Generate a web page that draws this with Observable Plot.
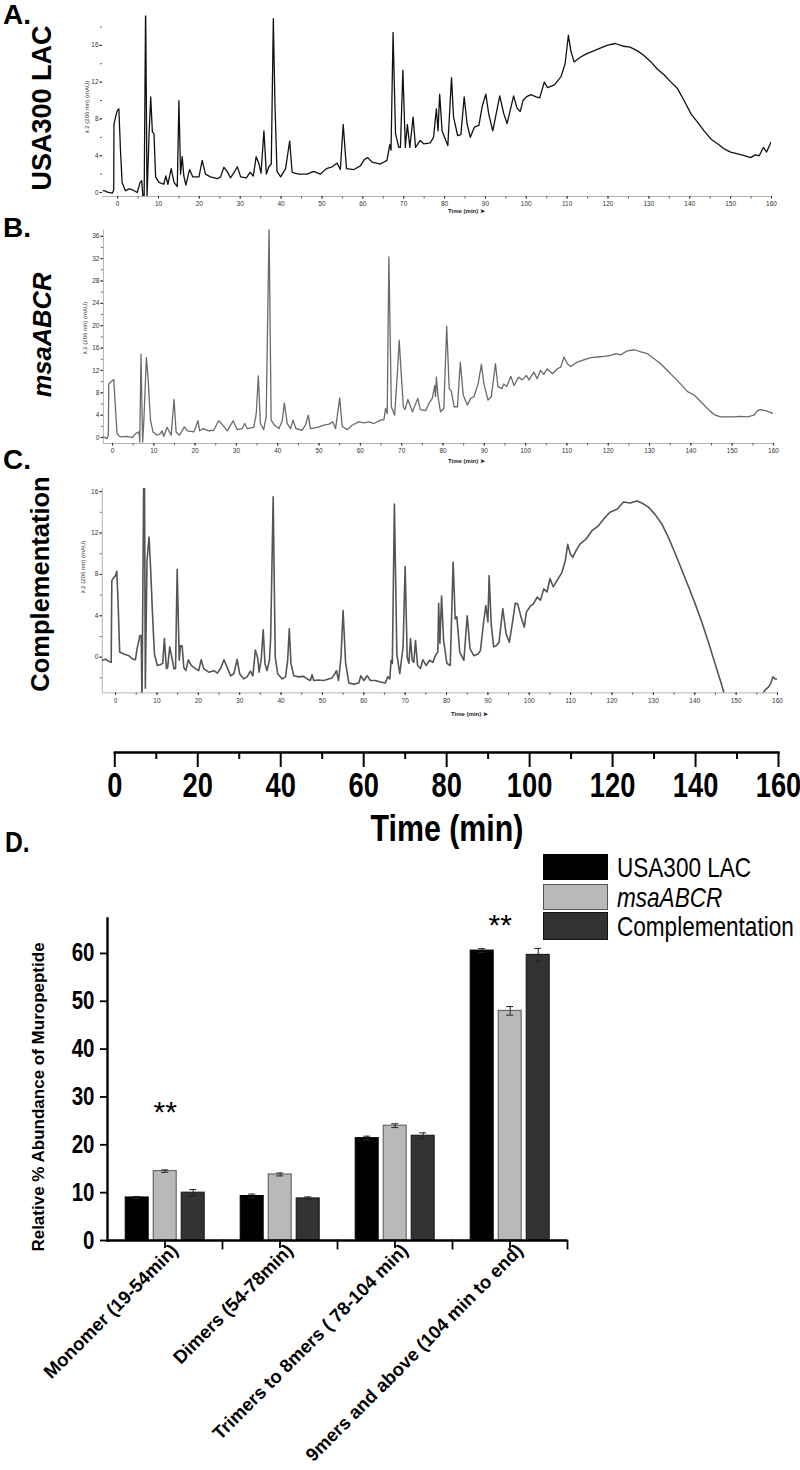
<!DOCTYPE html>
<html><head><meta charset="utf-8">
<script src="https://cdn.jsdelivr.net/npm/d3@7"></script>
<script src="https://cdn.jsdelivr.net/npm/@observablehq/plot@0.6"></script>
<style>
html,body{margin:0;padding:0;background:#fff;}
#fig{position:relative;width:800px;height:1470px;overflow:hidden;font-family:"Liberation Sans",Arial,sans-serif;color:#000;background:#fff;}
#fig svg{position:absolute;left:0;background:transparent;}
.abs{position:absolute;white-space:nowrap;line-height:1;}
.panel{font-weight:bold;font-size:28px;}
.rot{transform:translate(-50%,-50%) rotate(-90deg);}
.tlab{font-size:6px;font-weight:bold;color:#222;}
.ylab{font-size:6px;color:#333;}
.leg{font-size:27.5px;transform:scaleX(0.82);transform-origin:0 50%;}
.box{position:absolute;box-sizing:border-box;width:65px;}
</style></head><body><div id="fig"></div>
<script>
// ---------------- data ----------------
const timeTicks = [0,10,20,30,40,50,60,70,80,90,100,110,120,130,140,150,160];
const timeMinorTicks = [0,5,10,15,20,25,30,35,40,45,50,55,60,65,70,75,80,85,90,95,100,105,110,115,120,125,130,135,140,145,150,155,160];
const bigTimeTicks = [0,20,40,60,80,100,120,140,160];
const bigTimeMinorTicks = [10,30,50,70,90,110,130,150];
const yTicksA = [0,4,8,12,16];
const yMinorA = [0,2,4,6,8,10,12,14,16,18];
const yTicksB = [0,4,8,12,16,20,24,28,32,36];
const yMinorB = [0,2,4,6,8,10,12,14,16,18,20,22,24,26,28,30,32,34,36];
const yTicksC = [0,4,8,12,16];
const yMinorC = [-2,0,2,4,6,8,10,12,14,16];

// chromatogram A: USA300 LAC  [time (min), λ2 206 nm (mAU)]
const traceA = [[-3.5,0.2],[-2.9,0.15],[-2.5,0.05],[-1.3,-0.07],[-0.95,0.3],[-0.9,7.4],[-0.5,8.2],[-0.1,8.9],[0.3,9.1],[0.7,4.6],[1.1,1.1],[1.9,0.2],[2.8,0.4],[3.6,0.3],[4.8,0.0],[5.5,1.1],[5.9,1.3],[6.2,-0.5],[6.5,-0.3],[6.85,20.5],[7.2,-0.5],[7.7,6.4],[8.1,10.4],[8.5,6.6],[8.9,6.4],[9.3,1.7],[10.1,1.1],[11.3,0.9],[11.8,1.8],[12.3,0.9],[13.1,2.6],[13.8,1.1],[14.6,0.65],[15.0,10.0],[15.4,2.0],[15.8,3.9],[16.2,1.8],[16.7,0.8],[17.6,2.5],[18.4,1.7],[19.9,1.7],[20.7,3.5],[21.5,2.0],[22.7,1.7],[24.4,1.5],[25.2,1.7],[26.0,2.75],[26.8,2.3],[27.6,1.6],[28.4,2.1],[29.3,2.8],[30.1,1.7],[31.5,1.6],[32.4,2.2],[33.2,1.8],[33.9,3.9],[34.6,3.1],[35.1,2.1],[35.8,6.7],[36.4,2.0],[37.0,2.8],[37.6,3.1],[38.1,18.9],[38.5,9.6],[39.0,2.3],[39.9,1.7],[41.1,2.6],[42.1,5.6],[42.7,2.2],[44.3,2.0],[46.4,2.0],[48.0,2.3],[49.6,2.0],[51.1,2.6],[52.5,2.8],[53.7,3.2],[54.5,2.5],[55.2,7.4],[56.0,2.6],[57.8,2.5],[59.4,2.9],[60.4,3.6],[61.2,3.8],[62.3,3.3],[64.3,3.1],[65.9,3.5],[66.6,5.2],[66.9,4.6],[67.4,17.4],[68.0,6.4],[68.8,4.9],[69.2,4.9],[69.8,13.3],[70.4,4.9],[70.9,7.4],[71.5,4.9],[72.3,8.2],[72.9,4.9],[74.0,5.65],[74.9,5.3],[76.5,5.4],[77.3,6.0],[78.0,9.1],[78.4,6.7],[78.8,10.7],[79.4,6.7],[80.8,5.1],[81.7,12.5],[82.2,8.2],[83.2,6.2],[84.0,6.3],[84.8,10.4],[85.5,7.5],[86.3,6.0],[87.3,7.1],[88.4,7.3],[89.2,9.35],[90.1,10.7],[90.8,8.55],[91.8,6.7],[93.5,10.5],[94.5,8.55],[95.3,7.5],[96.9,10.5],[97.7,9.2],[98.5,8.8],[99.2,10.0],[100.0,10.4],[101.1,10.65],[102.4,10.4],[103.3,10.3],[104.4,12.0],[105.2,11.4],[106.9,11.7],[108.5,12.6],[109.5,14.0],[110.3,17.1],[110.9,15.4],[111.7,14.2],[113.2,14.7],[114.8,15.1],[116.5,15.4],[118.1,15.7],[119.7,16.0],[121.8,16.2],[123.8,15.9],[125.4,15.8],[127.2,15.4],[128.8,14.9],[130.5,14.2],[132.1,13.4],[133.7,12.8],[135.4,12.0],[137.0,11.3],[138.6,10.0],[140.3,8.55],[141.9,7.65],[143.5,6.7],[145.2,5.8],[146.8,5.3],[148.4,4.75],[150.0,4.4],[151.7,4.2],[153.3,4.0],[154.9,3.8],[156.0,4.1],[157.0,4.0],[158.0,4.9],[158.8,4.4],[159.9,5.5]];

// chromatogram B: msaABCR
const traceB = [[-2.5,0.1],[-2.1,0.1],[-1.3,-0.2],[-1.0,0.5],[-0.9,9.6],[-0.5,9.9],[0.3,10.4],[0.7,5.5],[1.1,0.7],[1.9,0.1],[3.6,0.2],[4.8,0.0],[5.6,0.7],[6.4,1.0],[6.6,-0.8],[6.9,14.9],[7.3,-0.8],[7.6,3.1],[8.2,14.3],[8.6,10.8],[9.2,3.1],[9.8,1.0],[10.8,0.4],[11.6,0.7],[12.0,1.2],[12.4,0.2],[13.2,1.8],[13.6,1.3],[14.2,0.4],[14.9,6.8],[15.4,1.0],[16.2,0.4],[17.4,1.9],[18.1,1.2],[19.7,1.0],[20.7,3.0],[21.1,1.2],[22.0,1.6],[23.3,1.2],[24.5,1.3],[25.7,3.0],[26.5,2.4],[27.8,1.2],[29.2,3.0],[30.2,1.4],[31.4,1.6],[32.0,2.5],[32.6,1.6],[34.2,1.8],[34.8,4.3],[35.3,11.0],[35.8,2.5],[36.6,1.4],[37.2,3.7],[37.9,37.5],[38.4,3.1],[39.2,2.2],[40.3,1.6],[41.1,3.0],[41.6,6.2],[42.3,2.5],[43.1,1.6],[43.7,3.1],[44.4,1.6],[45.9,1.3],[46.7,2.2],[47.4,4.0],[47.9,1.6],[49.6,1.8],[51.2,2.2],[52.4,2.4],[53.3,2.8],[54.0,1.6],[55.0,7.1],[55.6,2.0],[56.8,1.4],[58.0,2.2],[59.6,2.8],[60.9,2.6],[62.1,2.8],[63.3,2.5],[64.9,3.1],[65.7,3.2],[66.1,5.2],[66.5,4.3],[66.9,32.3],[67.5,5.5],[68.3,4.0],[69.0,12.0],[69.4,17.4],[69.8,12.5],[70.4,5.5],[70.8,5.0],[71.5,6.8],[72.6,4.6],[73.9,7.0],[74.5,5.0],[75.8,4.8],[76.6,6.1],[77.4,7.0],[78.0,9.3],[78.2,7.3],[78.4,10.8],[78.8,7.3],[79.4,4.6],[80.2,5.2],[80.9,19.9],[81.5,8.75],[82.0,8.3],[82.7,5.5],[83.5,5.5],[84.2,13.5],[84.9,7.6],[85.9,5.8],[86.7,7.0],[87.5,7.3],[88.5,9.6],[89.3,13.1],[89.9,9.6],[90.9,6.7],[91.7,7.3],[92.7,13.2],[93.3,9.1],[94.3,8.75],[94.7,9.6],[95.4,9.1],[96.4,10.95],[97.2,9.3],[98.3,10.8],[99.2,10.3],[100.2,11.1],[100.8,10.3],[102.0,11.7],[102.8,10.5],[103.6,12.0],[104.4,11.3],[105.2,12.3],[106.5,11.4],[107.7,12.3],[108.5,12.6],[109.3,14.4],[110.1,13.2],[110.9,12.7],[112.5,13.5],[114.1,13.9],[115.7,14.3],[117.4,14.4],[119.0,14.5],[120.6,14.7],[121.8,15.0],[123.0,14.8],[124.6,15.5],[126.3,15.7],[127.9,15.3],[129.5,15.0],[131.1,14.1],[132.7,13.2],[134.3,12.0],[135.9,10.8],[137.5,9.6],[139.2,8.2],[140.8,7.6],[142.4,6.4],[144.0,5.2],[145.6,4.1],[147.2,3.7],[148.8,3.7],[150.4,3.7],[152.0,3.8],[153.7,3.7],[155.3,4.0],[156.1,4.8],[156.9,5.0],[158.1,4.8],[158.9,4.6],[160.0,4.3]];

// chromatogram C: Complementation
const traceC = [[-3.2,-0.3],[-2.4,-0.2],[-1.6,-0.4],[-1.05,-0.5],[-0.9,7.4],[-0.4,7.7],[0.0,7.9],[0.3,8.3],[0.6,5.5],[1.0,0.5],[2.0,0.3],[3.2,0.15],[4.0,-0.15],[4.8,-0.25],[5.2,0.8],[5.9,2.1],[6.2,2.1],[6.4,-4.5],[6.8,17],[7.0,17],[7.2,-3.0],[7.6,9.3],[8.1,11.6],[8.5,8.4],[8.9,4.5],[9.4,0.3],[10.1,-0.8],[10.9,-0.7],[11.4,-0.6],[11.8,1.8],[12.3,-1.1],[12.6,-1.0],[13.1,1.0],[13.6,0.0],[14.1,-1.1],[14.5,-1.1],[14.9,8.5],[15.4,-0.3],[15.7,1.1],[16.1,1.1],[16.5,-1.0],[17.0,-1.3],[17.6,-0.25],[18.3,-0.8],[19.3,-1.1],[20.1,-1.3],[20.7,-0.25],[21.3,-1.1],[22.5,-1.45],[23.8,-1.3],[24.6,-1.55],[25.5,-1.0],[26.2,-0.25],[27.0,-1.0],[27.8,-1.8],[28.6,-1.6],[29.4,-0.2],[30.0,-1.6],[31.0,-2.1],[31.8,-1.9],[32.6,-1.35],[33.2,-1.8],[33.8,0.7],[34.4,-0.15],[34.7,-1.45],[35.2,-0.25],[35.7,2.65],[36.1,-0.6],[36.6,-1.3],[37.2,-0.3],[37.5,1.9],[38.1,15.5],[38.6,0.0],[39.2,-1.6],[40.3,-2.1],[41.1,-1.9],[41.6,-0.3],[42.0,2.75],[42.4,-0.6],[43.1,-1.8],[44.3,-1.9],[45.5,-1.85],[46.3,-2.1],[47.1,-2.25],[47.5,-1.7],[47.9,-2.25],[49.1,-2.2],[50.3,-2.25],[51.5,-2.1],[52.3,-2.0],[53.0,-1.6],[53.4,-1.3],[53.9,-2.25],[54.5,0.0],[55.0,4.5],[55.6,-0.5],[56.4,-2.5],[57.6,-2.6],[58.8,-2.5],[59.3,-1.8],[60.0,-2.25],[60.8,-1.8],[61.6,-2.25],[62.8,-2.25],[64.0,-2.4],[65.2,-2.5],[65.8,-1.9],[66.3,-2.1],[66.6,-0.3],[66.9,-0.6],[67.4,14.8],[68.0,0.3],[68.7,-1.6],[69.5,1.0],[70.0,8.75],[70.5,0.0],[70.9,-0.6],[71.3,1.8],[71.7,-0.3],[72.1,-0.5],[72.5,1.6],[73.0,-0.8],[73.7,-1.1],[74.3,-0.25],[75.1,-0.8],[75.9,-0.3],[76.7,-0.5],[77.3,0.15],[77.9,0.5],[78.1,5.2],[78.4,1.35],[78.8,5.9],[79.3,1.6],[80.1,-0.6],[80.9,-0.8],[81.6,9.2],[82.1,3.7],[82.5,3.9],[83.2,0.5],[84.2,-0.3],[85.0,4.0],[85.7,0.8],[86.6,0.15],[87.6,0.3],[88.2,0.65],[89.0,3.5],[89.5,5.0],[90.0,3.4],[90.3,7.9],[90.8,3.2],[91.4,1.0],[92.0,1.1],[92.7,1.45],[93.6,4.7],[94.4,2.25],[95.2,1.45],[96.0,3.5],[96.6,5.2],[97.2,5.15],[98.0,3.9],[98.8,2.9],[99.3,4.35],[100.2,4.9],[101.0,5.15],[101.9,5.8],[102.7,5.5],[103.5,6.6],[104.3,6.3],[105.0,7.6],[105.8,6.8],[106.7,7.4],[107.9,8.2],[108.7,9.3],[109.3,10.9],[109.9,10.0],[110.5,9.65],[111.3,10.3],[112.3,10.95],[113.7,11.4],[115.1,12.2],[116.7,12.7],[118.1,13.4],[119.5,14.0],[121.2,14.3],[122.8,15.0],[124.4,14.9],[126.0,15.1],[127.2,14.9],[128.8,14.5],[130.4,13.8],[132.0,12.9],[133.6,11.6],[135.3,10.0],[136.9,8.4],[138.5,6.8],[140.1,5.15],[141.7,3.4],[143.3,1.45],[144.9,-0.6],[146.3,-2.4],[147.3,-3.8],[148.5,-5.5],[155.0,-5.5],[156.2,-3.7],[157.0,-3.15],[157.8,-2.9],[158.4,-2.5],[158.9,-1.9],[159.4,-2.1],[160.0,-2.1]];

// panel D: relative % abundance of muropeptide
const categories = ["Monomer (19-54min)", "Dimers (54-78min)", "Trimers to 8mers ( 78-104 min)", "9mers and above (104 min to end)"];
const strains = ["USA300 LAC", "msaABCR", "Complementation"];
const usa300Values = [9.0, 9.3, 21.4, 60.6];
const usa300Errors = [0.2, 0.4, 0.4, 0.4];
const msaValues = [14.5, 13.8, 24.0, 48.0];
const msaErrors = [0.25, 0.3, 0.4, 0.9];
const compValues = [10.0, 8.8, 21.9, 59.7];
const compErrors = [0.65, 0.3, 0.6, 1.35];
const strainFills = ["#000000", "#b9b9b9", "#333333"];
const strainOutlines = ["#000000", "#555555", "#111111"];
const dTicks = [0,10,20,30,40,50,60];
const starCategories = ["Monomer (19-54min)", "9mers and above (104 min to end)"];
const starValues = [26.8, 65.9];

// ---------------- drawing ----------------
const fig = document.getElementById("fig");
const fontFam = "'Liberation Sans', Arial, sans-serif";

function chromatogram({trace, xDomain, yDomain, width, height, mL, mR, mT, mB, stroke, strokeWidth, yTicks, yMinor, yLine}) {
  return Plot.plot({
    width, height, marginLeft: mL, marginRight: mR, marginTop: mT, marginBottom: mB,
    style: {fontFamily: fontFam, background: "transparent"},
    x: {domain: xDomain, label: null},
    y: {domain: yDomain, label: null},
    marks: [
      Plot.ruleY([yDomain[0]], {stroke: "#a0a0a0", strokeWidth: 0.8}),
      yLine ? Plot.ruleX([xDomain[0]], {stroke: "#a0a0a0", strokeWidth: 0.8}) : null,
      Plot.axisX({ticks: timeMinorTicks, tickSize: 2.5, tickFormat: () => "", color: "#666", label: null}),
      Plot.axisX({ticks: timeTicks, tickSize: 2.5, tickPadding: 2.5, fontSize: 6.5, color: "#333", label: null}),
      Plot.axisY({ticks: yMinor, tickSize: 2, tickFormat: () => "", color: "#666", label: null}),
      Plot.axisY({ticks: yTicks, tickSize: 2.5, tickPadding: 1.5, fontSize: 6.5, color: "#333", label: null}),
      Plot.line(trace, {x: d => d[0], y: d => d[1], stroke, strokeWidth, clip: true, strokeLinejoin: "round"})
    ]
  });
}

function place(svg, top) { svg.style.top = top + "px"; fig.appendChild(svg); return svg; }
// horizontally condense tick-label text (narrow bold face of the original)
function condense(svg, selector, k) {
  svg.querySelectorAll(selector).forEach(t => {
    const tr = t.getAttribute("transform") || "";
    t.setAttribute("transform", tr + ` scale(${k},1)`);
  });
}

place(chromatogram({trace: traceA, xDomain: [-3.7, 160], yDomain: [-0.43, 19.2], width: 782, height: 220,
  mL: 102, mR: 11, mT: 15.4, mB: 24, stroke: "#111", strokeWidth: 1.3, yTicks: yTicksA, yMinor: yMinorA, yLine: false}), 0);
place(chromatogram({trace: traceB, xDomain: [-2.2, 160], yDomain: [-1.07, 37.1], width: 782, height: 250,
  mL: 102.9, mR: 9, mT: 9.6, mB: 27, stroke: "#6a6a6a", strokeWidth: 1.3, yTicks: yTicksB, yMinor: yMinorB, yLine: true}), 220);
place(chromatogram({trace: traceC, xDomain: [-3.2, 160], yDomain: [-3.45, 16.3], width: 786, height: 250,
  mL: 101.8, mR: 9, mT: 18, mB: 27.6, stroke: "#555", strokeWidth: 1.6, yTicks: yTicksC, yMinor: yMinorC, yLine: true}), 470);

// big common time axis
const bigAxis = place(Plot.plot({
  width: 800, height: 70, marginLeft: 114.3, marginRight: 22, marginTop: 0, marginBottom: 58,
  style: {fontFamily: fontFam, background: "transparent"},
  x: {domain: [0, 160], label: null},
  marks: [
    Plot.frame({anchor: "bottom", strokeWidth: 2.4}),
    Plot.axisX({ticks: bigTimeMinorTicks, tickSize: 7, tickFormat: () => "", strokeWidth: 2, label: null}),
    Plot.axisX({ticks: bigTimeTicks, tickSize: 15, tickPadding: 4.5, fontSize: 35, fontWeight: "bold", strokeWidth: 2, label: null})
  ]
}), 740);
condense(bigAxis, "text", 0.78);

// panel D bars
const valueSets = [usa300Values, msaValues, compValues];
const errorSets = [usa300Errors, msaErrors, compErrors];
const rows = categories.flatMap((cat, i) => strains.map((strain, j) => ({cat, strain, value: valueSets[j][i], err: errorSets[j][i]})));
const stars = starCategories.map((cat, i) => ({cat, strain: strains[1], y: starValues[i], label: "**"}));

const dPlot = place(Plot.plot({
  width: 800, height: 590, marginLeft: 105.8, marginRight: 232, marginTop: 38, marginBottom: 230,
  style: {fontFamily: fontFam, fontWeight: "bold", background: "transparent", color: "#000"},
  fx: {domain: categories, padding: 0, label: null},
  x: {domain: strains, paddingInner: 0.162, paddingOuter: 0.581, axis: null},
  y: {domain: [0, 67.3], label: null},
  marks: [
    ...strains.map((s, j) => Plot.barY(rows.filter(r => r.strain === s), {fx: "cat", x: "strain", y: "value", fill: strainFills[j], stroke: strainOutlines[j], strokeWidth: 1})),
    Plot.ruleX(rows, {fx: "cat", x: "strain", y1: d => d.value - d.err, y2: d => d.value + d.err, stroke: "#222", strokeWidth: 1}),
    Plot.tickY(rows, {fx: "cat", x: "strain", y: d => d.value + d.err, insetLeft: 8, insetRight: 8, stroke: "#222", strokeWidth: 1}),
    Plot.tickY(rows, {fx: "cat", x: "strain", y: d => d.value - d.err, insetLeft: 8, insetRight: 8, stroke: "#222", strokeWidth: 1}),
    Plot.text(stars.slice(0, 1), {fx: "cat", x: "strain", y: "y", text: "label", fontSize: 30, fontWeight: "normal"}),
    Plot.text(stars.slice(1), {fx: "cat", x: "strain", y: "y", text: "label", fontSize: 30, fontWeight: "normal", dx: -10}),
    Plot.ruleY([0], {strokeWidth: 2.4}),
    Plot.frame({anchor: "left", facetAnchor: "left", strokeWidth: 2.4}),
    Plot.frame({anchor: "right", insetTop: 322, insetBottom: -8, strokeWidth: 1.8}),
    Plot.axisY({ticks: dTicks, tickSize: 7, tickPadding: 6, fontSize: 25, strokeWidth: 1.8, label: null}),
    Plot.axisFx({anchor: "bottom", tickSize: 8, tickFormat: () => "", strokeWidth: 1.8, label: null}),
    Plot.axisFx({anchor: "bottom", tickSize: 0, tickPadding: 12, tickRotate: -45, fontSize: 18.5, dx: 10, dy: -5, label: null})
  ]
}), 880);
condense(dPlot, '[aria-label="y-axis tick label"] text', 0.82);

// ---------------- text ----------------
function addText(html, cls, css) {
  const d = document.createElement("div");
  d.className = "abs " + cls;
  d.innerHTML = html;
  Object.assign(d.style, css);
  fig.appendChild(d);
  return d;
}
addText("A.", "panel", {left: "3px", top: "1.3px"});
addText("B.", "panel", {left: "3px", top: "213.8px"});
addText("C.", "panel", {left: "3px", top: "446.3px"});
addText("D.", "panel", {left: "5px", top: "826.6px", fontSize: "30px", transform: "scaleX(0.82)", transformOrigin: "0 50%"});
addText("USA300 LAC", "panel rot", {left: "41.7px", top: "107.5px", fontSize: "27px"});
addText("<i>msaABCR</i>", "panel rot", {left: "42.5px", top: "335px", fontSize: "25.5px"});
addText("Complementation", "panel rot", {left: "41px", top: "583.5px", fontSize: "25.5px"});

addText("Time (min) ➤", "tlab", {left: "448px", top: "208px"});
addText("Time (min) ➤", "tlab", {left: "448px", top: "458px"});
addText("Time (min) ➤", "tlab", {left: "451px", top: "711px"});
addText("λ 2 (206 nm) (mAU)", "ylab rot", {left: "86.7px", top: "107px"});
addText("λ 2 (206 nm) (mAU)", "ylab rot", {left: "85px", top: "328px"});
addText("λ 2 (206 nm) (mAU)", "ylab rot", {left: "82.5px", top: "567px"});

addText("Time (min)", "", {left: "447px", top: "828px", transform: "translate(-50%,-50%) scaleX(0.82)", fontSize: "37px", fontWeight: "bold"});
addText("Relative % Abundance of Muropeptide", "rot", {left: "38px", top: "1097px", fontSize: "17px", fontWeight: "bold"});

// legend
const legendTops = [854, 884, 912];
const legendHeights = [26, 26, 28];
strains.forEach((s, j) => {
  const b = document.createElement("div");
  b.className = "box";
  Object.assign(b.style, {left: "543px", top: legendTops[j] + "px", height: legendHeights[j] + "px",
    background: strainFills[j], border: "1px solid " + strainOutlines[j]});
  fig.appendChild(b);
  addText(j === 1 ? "<i>" + s + "</i>" : s, "leg", {left: "617px", top: (legendTops[j] + legendHeights[j] / 2 - 13.4) + "px"});
});
</script></body></html>
